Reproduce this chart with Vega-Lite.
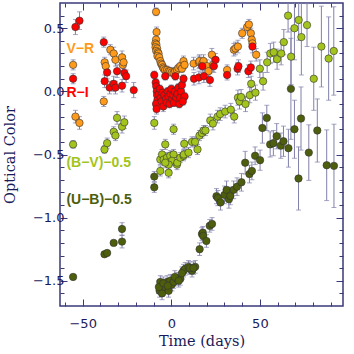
{
"$schema": "https://vega.github.io/schema/vega-lite/v6.json",
"width": 283, "height": 303,
"autosize": "none",
"padding": {"left": 60, "top": 3, "right": 11, "bottom": 48},
"config": {"view": {"stroke": "#3a3a7a", "strokeWidth": 1.5},
  "axis": {"domain": false, "grid": false, "tickColor": "#3a3a7a", "labelColor": "#1a1a5a", "titleColor": "#1a1a5a", "labelFont": "DejaVu Sans", "labelFontSize": 13, "titleFont": "DejaVu Serif", "titleFontSize": 14.5, "titleFontWeight": "normal"}},
"datasets": {
"pts": [
{"s":"VR","t":-55.4,"v":0.21,"e":0.04},{"s":"VR","t":-54.1,"v":-0.20,"e":0.05},{"s":"VR","t":-51.8,"v":-0.25,"e":0.05},{"s":"VR","t":-38.1,"v":-0.08,"e":0.04},{"s":"VR","t":-37.6,"v":0.23,"e":0.04},{"s":"VR","t":-37.0,"v":0.20,"e":0.04},{"s":"VR","t":-34.4,"v":0.33,"e":0.04},{"s":"VR","t":-32.5,"v":0.30,"e":0.05},{"s":"VR","t":-31.5,"v":0.25,"e":0.05},{"s":"VR","t":-27.8,"v":0.27,"e":0.05},{"s":"VR","t":-27.4,"v":0.21,"e":0.05},{"s":"VR","t":-26.9,"v":0.23,"e":0.05},
{"s":"VR","t":-8.6,"v":0.63,"e":0.03},{"s":"VR","t":-8.3,"v":0.47,"e":0.04},{"s":"VR","t":-8.6,"v":0.41,"e":0.04},{"s":"VR","t":-9.0,"v":0.38,"e":0.03},{"s":"VR","t":-8.4,"v":0.37,"e":0.03},{"s":"VR","t":-8.9,"v":0.35,"e":0.03},{"s":"VR","t":-8.0,"v":0.34,"e":0.03},{"s":"VR","t":-8.5,"v":0.32,"e":0.03},{"s":"VR","t":-7.6,"v":0.31,"e":0.03},{"s":"VR","t":-7.2,"v":0.30,"e":0.03},{"s":"VR","t":-7.8,"v":0.28,"e":0.03},{"s":"VR","t":-6.8,"v":0.27,"e":0.03},{"s":"VR","t":-6.2,"v":0.24,"e":0.03},{"s":"VR","t":-5.8,"v":0.22,"e":0.03},{"s":"VR","t":-5.2,"v":0.21,"e":0.03},{"s":"VR","t":-4.7,"v":0.19,"e":0.03},{"s":"VR","t":-4.3,"v":0.18,"e":0.03},{"s":"VR","t":-3.5,"v":0.17,"e":0.03},{"s":"VR","t":-2.4,"v":0.17,"e":0.03},{"s":"VR","t":-1.5,"v":0.16,"e":0.03},{"s":"VR","t":-0.6,"v":0.16,"e":0.03},{"s":"VR","t":0.3,"v":0.15,"e":0.03},{"s":"VR","t":1.3,"v":0.145,"e":0.03},{"s":"VR","t":2.2,"v":0.16,"e":0.03},{"s":"VR","t":3.2,"v":0.17,"e":0.03},{"s":"VR","t":4.0,"v":0.185,"e":0.03},{"s":"VR","t":5.1,"v":0.20,"e":0.03},{"s":"VR","t":6.0,"v":0.18,"e":0.03},{"s":"VR","t":6.9,"v":0.24,"e":0.04},{"s":"VR","t":7.5,"v":0.21,"e":0.03},
{"s":"VR","t":12.6,"v":0.22,"e":0.05},{"s":"VR","t":15.6,"v":0.23,"e":0.05},{"s":"VR","t":15.9,"v":0.24,"e":0.05},{"s":"VR","t":17.5,"v":0.22,"e":0.05},{"s":"VR","t":18.2,"v":0.24,"e":0.05},{"s":"VR","t":20.1,"v":0.20,"e":0.05},{"s":"VR","t":21.0,"v":0.16,"e":0.05},{"s":"VR","t":22.9,"v":0.29,"e":0.05},{"s":"VR","t":23.5,"v":0.21,"e":0.05},{"s":"VR","t":31.5,"v":0.17,"e":0.04},{"s":"VR","t":35.3,"v":0.33,"e":0.05},{"s":"VR","t":36.2,"v":0.34,"e":0.05},{"s":"VR","t":37.6,"v":0.355,"e":0.05},{"s":"VR","t":40.0,"v":0.46,"e":0.04},{"s":"VR","t":42.8,"v":0.51,"e":0.04},{"s":"VR","t":43.8,"v":0.53,"e":0.04},{"s":"VR","t":44.9,"v":0.46,"e":0.04},{"s":"VR","t":45.4,"v":0.41,"e":0.05},{"s":"VR","t":45.8,"v":0.38,"e":0.05},{"s":"VR","t":47.9,"v":0.29,"e":0.05},
{"s":"RI","t":-54.1,"v":0.51,"e":0.06},{"s":"RI","t":-51.8,"v":0.56,"e":0.07},{"s":"RI","t":-55.4,"v":0.10,"e":0.04},{"s":"RI","t":-38.1,"v":0.39,"e":0.04},{"s":"RI","t":-36.2,"v":0.15,"e":0.05},{"s":"RI","t":-37.6,"v":0.08,"e":0.05},{"s":"RI","t":-34.8,"v":0.03,"e":0.05},{"s":"RI","t":-32.5,"v":0.06,"e":0.06},{"s":"RI","t":-31.5,"v":0.03,"e":0.05},{"s":"RI","t":-30.6,"v":0.16,"e":0.05},{"s":"RI","t":-27.8,"v":0.045,"e":0.05},{"s":"RI","t":-26.5,"v":0.145,"e":0.05},{"s":"RI","t":-25.5,"v":0.12,"e":0.05},{"s":"RI","t":-21.2,"v":0.01,"e":0.06},
{"s":"RI","t":-9.6,"v":0.13,"e":0.03},{"s":"RI","t":-8.8,"v":0.07,"e":0.03},{"s":"RI","t":-8.5,"v":0.04,"e":0.03},{"s":"RI","t":-8.2,"v":0.0,"e":0.03},{"s":"RI","t":-8.0,"v":-0.03,"e":0.03},{"s":"RI","t":-7.8,"v":-0.07,"e":0.03},{"s":"RI","t":-8.6,"v":-0.10,"e":0.04},{"s":"RI","t":-8.3,"v":-0.14,"e":0.04},{"s":"RI","t":-7.0,"v":-0.02,"e":0.03},{"s":"RI","t":-6.5,"v":0.02,"e":0.03},{"s":"RI","t":-6.0,"v":-0.05,"e":0.03},{"s":"RI","t":-5.5,"v":-0.08,"e":0.03},{"s":"RI","t":-5.0,"v":-0.01,"e":0.03},{"s":"RI","t":-4.5,"v":-0.12,"e":0.04},{"s":"RI","t":-4.0,"v":-0.03,"e":0.03},{"s":"RI","t":-3.4,"v":0.12,"e":0.03},{"s":"RI","t":-3.0,"v":-0.06,"e":0.03},{"s":"RI","t":-2.5,"v":-0.09,"e":0.03},{"s":"RI","t":-2.0,"v":0.0,"e":0.03},{"s":"RI","t":-1.5,"v":-0.04,"e":0.03},{"s":"RI","t":-1.0,"v":-0.10,"e":0.03},{"s":"RI","t":-0.5,"v":-0.02,"e":0.03},{"s":"RI","t":0.0,"v":0.02,"e":0.03},{"s":"RI","t":0.5,"v":-0.06,"e":0.03},{"s":"RI","t":1.0,"v":-0.03,"e":0.03},{"s":"RI","t":1.5,"v":-0.09,"e":0.03},{"s":"RI","t":2.0,"v":0.0,"e":0.03},{"s":"RI","t":2.3,"v":0.12,"e":0.03},{"s":"RI","t":2.8,"v":-0.05,"e":0.03},{"s":"RI","t":3.5,"v":-0.02,"e":0.03},{"s":"RI","t":4.0,"v":0.03,"e":0.03},{"s":"RI","t":4.5,"v":-0.10,"e":0.03},{"s":"RI","t":5.0,"v":-0.05,"e":0.03},{"s":"RI","t":5.5,"v":0.0,"e":0.03},{"s":"RI","t":6.0,"v":0.05,"e":0.03},{"s":"RI","t":6.9,"v":0.10,"e":0.03},{"s":"RI","t":7.5,"v":-0.04,"e":0.03},{"s":"RI","t":6.5,"v":-0.08,"e":0.03},
{"s":"RI","t":12.8,"v":0.10,"e":0.05},{"s":"RI","t":15.6,"v":0.11,"e":0.05},{"s":"RI","t":17.5,"v":0.20,"e":0.05},{"s":"RI","t":18.4,"v":0.12,"e":0.05},{"s":"RI","t":21.8,"v":0.09,"e":0.05},{"s":"RI","t":24.0,"v":0.20,"e":0.05},{"s":"RI","t":25.0,"v":0.25,"e":0.05},{"s":"RI","t":31.5,"v":0.13,"e":0.04},{"s":"RI","t":37.4,"v":0.18,"e":0.05},{"s":"RI","t":37.9,"v":0.20,"e":0.05},{"s":"RI","t":43.5,"v":0.16,"e":0.05},{"s":"RI","t":44.9,"v":0.19,"e":0.05},{"s":"RI","t":45.8,"v":0.355,"e":0.05},
{"s":"BV","t":-55.4,"v":-0.42,"e":0.03},{"s":"BV","t":-37.7,"v":-0.46,"e":0.03},{"s":"BV","t":-36.2,"v":-0.41,"e":0.04},{"s":"BV","t":-32.5,"v":-0.32,"e":0.04},{"s":"BV","t":-31.5,"v":-0.35,"e":0.04},{"s":"BV","t":-30.6,"v":-0.21,"e":0.05},{"s":"BV","t":-27.8,"v":-0.28,"e":0.05},{"s":"BV","t":-26.5,"v":-0.245,"e":0.05},
{"s":"BV","t":-9.6,"v":-0.25,"e":0.05},{"s":"BV","t":-3.4,"v":-0.42,"e":0.04},{"s":"BV","t":1.3,"v":-0.30,"e":0.04},{"s":"BV","t":-6.2,"v":-0.54,"e":0.04},{"s":"BV","t":-5.2,"v":-0.50,"e":0.04},{"s":"BV","t":-4.3,"v":-0.54,"e":0.04},{"s":"BV","t":-2.4,"v":-0.525,"e":0.04},{"s":"BV","t":-0.6,"v":-0.51,"e":0.04},{"s":"BV","t":1.3,"v":-0.50,"e":0.04},{"s":"BV","t":0.4,"v":-0.55,"e":0.04},{"s":"BV","t":-1.5,"v":-0.58,"e":0.04},{"s":"BV","t":-3.4,"v":-0.565,"e":0.04},{"s":"BV","t":-6.2,"v":-0.63,"e":0.04},{"s":"BV","t":-1.5,"v":-0.645,"e":0.04},{"s":"BV","t":3.2,"v":-0.58,"e":0.04},{"s":"BV","t":3.4,"v":-0.565,"e":0.04},{"s":"BV","t":5.1,"v":-0.525,"e":0.04},{"s":"BV","t":6.9,"v":-0.51,"e":0.04},{"s":"BV","t":7.1,"v":-0.50,"e":0.04},{"s":"BV","t":9.7,"v":-0.485,"e":0.04},{"s":"BV","t":7.3,"v":-0.415,"e":0.04},{"s":"BV","t":11.7,"v":-0.40,"e":0.04},{"s":"BV","t":13.4,"v":-0.40,"e":0.04},{"s":"BV","t":14.8,"v":-0.46,"e":0.04},{"s":"BV","t":15.9,"v":-0.35,"e":0.04},{"s":"BV","t":17.3,"v":-0.33,"e":0.04},{"s":"BV","t":18.3,"v":-0.31,"e":0.04},{"s":"BV","t":19.3,"v":-0.31,"e":0.04},{"s":"BV","t":22.0,"v":-0.23,"e":0.05},{"s":"BV","t":23.5,"v":-0.255,"e":0.05},{"s":"BV","t":26.1,"v":-0.20,"e":0.05},{"s":"BV","t":27.6,"v":-0.18,"e":0.05},{"s":"BV","t":30.4,"v":-0.16,"e":0.05},{"s":"BV","t":33.6,"v":-0.145,"e":0.05},{"s":"BV","t":35.5,"v":-0.20,"e":0.05},{"s":"BV","t":37.6,"v":-0.05,"e":0.06},{"s":"BV","t":38.5,"v":-0.08,"e":0.06},{"s":"BV","t":39.4,"v":-0.045,"e":0.06},{"s":"BV","t":41.9,"v":-0.10,"e":0.06},{"s":"BV","t":44.3,"v":-0.03,"e":0.06},{"s":"BV","t":45.1,"v":0.06,"e":0.06},{"s":"BV","t":47.5,"v":-0.01,"e":0.06},{"s":"BV","t":50.0,"v":0.18,"e":0.07},{"s":"BV","t":51.8,"v":0.08,"e":0.07},{"s":"BV","t":54.1,"v":0.23,"e":0.08},{"s":"BV","t":55.9,"v":0.30,"e":0.08},{"s":"BV","t":57.8,"v":0.31,"e":0.08},{"s":"BV","t":59.7,"v":0.255,"e":0.08},{"s":"BV","t":62.0,"v":0.30,"e":0.09},{"s":"BV","t":63.5,"v":0.39,"e":0.1},{"s":"BV","t":65.9,"v":0.60,"e":0.13},{"s":"BV","t":67.6,"v":0.275,"e":0.22},{"s":"BV","t":69.5,"v":0.50,"e":0.25},{"s":"BV","t":71.9,"v":0.565,"e":0.16},{"s":"BV","t":73.4,"v":0.43,"e":0.3},{"s":"BV","t":76.6,"v":0.525,"e":0.17},{"s":"BV","t":80.4,"v":0.10,"e":0.25},{"s":"BV","t":84.7,"v":0.355,"e":0.32},{"s":"BV","t":88.8,"v":0.26,"e":0.33},{"s":"BV","t":91.7,"v":0.32,"e":0.35},
{"s":"UB","t":-55.4,"v":-1.47,"e":0.02},{"s":"UB","t":-37.7,"v":-1.29,"e":0.02},{"s":"UB","t":-36.2,"v":-1.28,"e":0.02},{"s":"UB","t":-32.5,"v":-1.20,"e":0.02},{"s":"UB","t":-27.8,"v":-1.19,"e":0.05},{"s":"UB","t":-27.8,"v":-1.09,"e":0.05},
{"s":"UB","t":-9.6,"v":-0.675,"e":0.04},{"s":"UB","t":-9.6,"v":-0.76,"e":0.04},
{"s":"UB","t":-6.2,"v":-1.51,"e":0.05},{"s":"UB","t":-6.6,"v":-1.58,"e":0.05},{"s":"UB","t":-5.2,"v":-1.60,"e":0.05},{"s":"UB","t":-3.4,"v":-1.55,"e":0.05},{"s":"UB","t":-2.4,"v":-1.51,"e":0.05},{"s":"UB","t":-0.6,"v":-1.50,"e":0.05},{"s":"UB","t":-1.5,"v":-1.58,"e":0.05},{"s":"UB","t":0.4,"v":-1.53,"e":0.05},{"s":"UB","t":1.3,"v":-1.51,"e":0.05},{"s":"UB","t":3.2,"v":-1.485,"e":0.05},{"s":"UB","t":5.1,"v":-1.485,"e":0.05},{"s":"UB","t":6.9,"v":-1.42,"e":0.05},{"s":"UB","t":7.9,"v":-1.405,"e":0.05},{"s":"UB","t":9.7,"v":-1.39,"e":0.05},{"s":"UB","t":11.7,"v":-1.42,"e":0.05},{"s":"UB","t":13.5,"v":-1.39,"e":0.05},{"s":"UB","t":-7.0,"v":-1.55,"e":0.05},{"s":"UB","t":-4.5,"v":-1.52,"e":0.05},{"s":"UB","t":-2.0,"v":-1.54,"e":0.05},{"s":"UB","t":2.0,"v":-1.47,"e":0.05},{"s":"UB","t":4.2,"v":-1.50,"e":0.05},{"s":"UB","t":6.0,"v":-1.44,"e":0.05},{"s":"UB","t":10.5,"v":-1.40,"e":0.05},{"s":"UB","t":12.5,"v":-1.40,"e":0.05},
{"s":"UB","t":16.0,"v":-1.25,"e":0.05},{"s":"UB","t":17.3,"v":-1.13,"e":0.05},{"s":"UB","t":17.8,"v":-1.12,"e":0.05},{"s":"UB","t":18.0,"v":-1.145,"e":0.05},{"s":"UB","t":19.8,"v":-1.185,"e":0.05},{"s":"UB","t":21.7,"v":-1.065,"e":0.05},{"s":"UB","t":23.0,"v":-1.05,"e":0.05},{"s":"UB","t":25.5,"v":-0.83,"e":0.06},{"s":"UB","t":26.3,"v":-0.845,"e":0.06},{"s":"UB","t":27.8,"v":-0.88,"e":0.06},{"s":"UB","t":30.0,"v":-0.82,"e":0.07},{"s":"UB","t":31.2,"v":-0.78,"e":0.07},{"s":"UB","t":32.5,"v":-0.855,"e":0.07},{"s":"UB","t":33.3,"v":-0.828,"e":0.07},{"s":"UB","t":35.2,"v":-0.78,"e":0.07},{"s":"UB","t":37.1,"v":-0.755,"e":0.07},{"s":"UB","t":39.6,"v":-0.72,"e":0.07},{"s":"UB","t":41.7,"v":-0.565,"e":0.09},{"s":"UB","t":44.1,"v":-0.655,"e":0.07},{"s":"UB","t":45.5,"v":-0.63,"e":0.07},{"s":"UB","t":47.3,"v":-0.51,"e":0.07},{"s":"UB","t":50.1,"v":-0.545,"e":0.08},{"s":"UB","t":51.4,"v":-0.29,"e":0.12},{"s":"UB","t":53.9,"v":-0.21,"e":0.1},{"s":"UB","t":55.8,"v":-0.42,"e":0.1},{"s":"UB","t":57.6,"v":-0.41,"e":0.1},{"s":"UB","t":59.5,"v":-0.355,"e":0.1},{"s":"UB","t":61.8,"v":-0.43,"e":0.1},{"s":"UB","t":63.3,"v":-0.395,"e":0.12},{"s":"UB","t":66.1,"v":-0.45,"e":0.15},{"s":"UB","t":67.5,"v":0.02,"e":0.4},{"s":"UB","t":69.5,"v":-0.30,"e":0.23},{"s":"UB","t":71.8,"v":-0.69,"e":0.25},{"s":"UB","t":73.2,"v":-0.215,"e":0.25},{"s":"UB","t":77.6,"v":-0.485,"e":0.22},{"s":"UB","t":82.4,"v":-0.31,"e":0.25},{"s":"UB","t":87.7,"v":-0.585,"e":0.28},{"s":"UB","t":91.8,"v":-0.59,"e":0.33}
],
"lbl": [
{"s":"VR","t":-59.2,"v":0.335,"txt":"V−R"},
{"s":"RI","t":-59.2,"v":-0.015,"txt":"R−I"},
{"s":"BV","t":-59.2,"v":-0.57,"txt":"(B−V)−0.5"},
{"s":"UB","t":-59.2,"v":-0.86,"txt":"(U−B)−0.5"}
]
},
"layer": [
{"data": {"name": "pts"},
 "mark": {"type": "errorbar", "clip": true, "ticks": {"size": 5, "color": "#8080aa"}, "rule": {"color": "#8080aa", "strokeWidth": 1}},
 "encoding": {
  "x": {"field": "t", "type": "quantitative", "scale": {"domain": [-62.8, 96.9], "nice": false, "zero": false},
        "axis": {"orient": "bottom", "title": "Time (days)", "values": [-60,-50,-40,-30,-20,-10,0,10,20,30,40,50,60,70,80,90], "labelExpr": "datum.value % 50 == 0 ? format(datum.value, 'd') : ''", "tickSize": {"condition": {"test": "datum.value % 50 == 0", "value": -7}, "value": -4}, "labelPadding": 18, "titlePadding": 4}},
  "y": {"field": "v", "type": "quantitative", "scale": {"domain": [-1.70, 0.70], "nice": false, "zero": false},
        "axis": {"orient": "left", "title": "Optical Color", "values": [-1.6,-1.5,-1.4,-1.3,-1.2,-1.1,-1.0,-0.9,-0.8,-0.7,-0.6,-0.5,-0.4,-0.3,-0.2,-0.1,0,0.1,0.2,0.3,0.4,0.5,0.6], "labelExpr": "abs(round(datum.value*10)) % 5 == 0 ? format(datum.value, '.1f') : ''", "tickSize": {"condition": {"test": "abs(round(datum.value*10)) % 5 == 0", "value": -7}, "value": -4}, "labelPadding": 3, "titlePadding": 15}},
  "yError": {"field": "e"}
 }},
{"data": {"name": "pts"},
 "mark": {"type": "point", "filled": true, "shape": "circle", "size": 55, "opacity": 1, "stroke": "#333333", "strokeWidth": 0.6, "clip": true},
 "encoding": {
  "x": {"field": "t", "type": "quantitative", "axis": null},
  "y": {"field": "v", "type": "quantitative", "axis": null},
  "fill": {"field": "s", "type": "nominal", "scale": {"domain": ["VR","RI","BV","UB"], "range": ["#ff9a1a","#ff0000","#a2c41c","#4d5e0c"]}, "legend": null}
 }},
{"data": {"name": "lbl"},
 "mark": {"type": "text", "align": "left", "baseline": "middle", "font": "Liberation Sans", "fontSize": 14, "fontWeight": "bold"},
 "encoding": {
  "x": {"field": "t", "type": "quantitative", "axis": null},
  "y": {"field": "v", "type": "quantitative", "axis": null},
  "text": {"field": "txt"},
  "fill": {"field": "s", "type": "nominal", "legend": null}
 }},
{"data": {"name": "lbl"},
 "mark": {"type": "point", "opacity": 0},
 "encoding": {
  "x": {"field": "t", "type": "quantitative",
        "axis": {"orient": "top", "title": null, "labels": false, "values": [-60,-50,-40,-30,-20,-10,0,10,20,30,40,50,60,70,80,90], "tickSize": {"condition": {"test": "datum.value % 50 == 0", "value": -7}, "value": -4}}},
  "y": {"field": "v", "type": "quantitative",
        "axis": {"orient": "right", "title": null, "labels": false, "values": [-1.6,-1.5,-1.4,-1.3,-1.2,-1.1,-1.0,-0.9,-0.8,-0.7,-0.6,-0.5,-0.4,-0.3,-0.2,-0.1,0,0.1,0.2,0.3,0.4,0.5,0.6], "tickSize": {"condition": {"test": "abs(round(datum.value*10)) % 5 == 0", "value": -7}, "value": -4}}}
 }}
],
"resolve": {"axis": {"x": "independent", "y": "independent"}}
}
